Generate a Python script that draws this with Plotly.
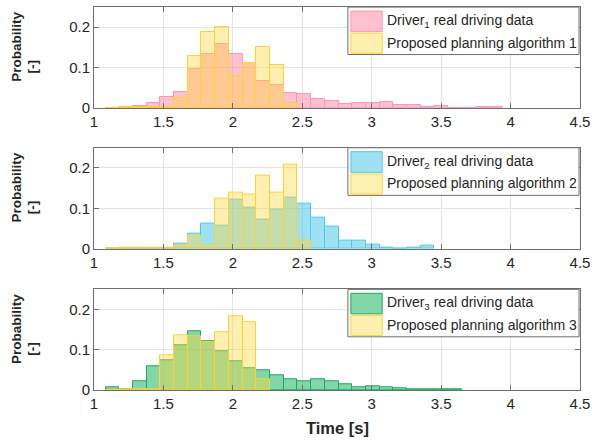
import plotly.graph_objects as go
from plotly.subplots import make_subplots

# ---- data (probability per time bin) ----
bin_start = 1.083
bin_width = 0.0987

driver1 = [0, 0.001, 0.005, 0.013, 0.026, 0.038, 0.096, 0.133, 0.157, 0.133, 0.110,
           0.067, 0.057, 0.037, 0.034, 0.022, 0.016, 0.010, 0.012, 0.012, 0.015,
           0.007, 0.007, 0.003, 0.004, 0, 0, 0.002, 0.001]
algo1 = [0, 0.002, 0.003, 0.001, 0.001, 0.023, 0.128, 0.187, 0.200, 0.078, 0.112,
         0.150, 0.106, 0.013]

driver2 = [0, 0, 0, 0, 0, 0.012, 0.037, 0.063, 0.058, 0.122, 0.102, 0.073, 0.097,
           0.127, 0.112, 0.078, 0.055, 0.021, 0.019, 0.011, 0.002, 0, 0.002, 0.007]
algo2 = [0, 0.002, 0.002, 0.002, 0.002, 0.007, 0.032, 0.008, 0.124, 0.139, 0.134,
         0.181, 0.139, 0.208, 0.021]

driver3 = [0.008, 0.003, 0.022, 0.058, 0.074, 0.110, 0.145, 0.121, 0.095, 0.071,
           0.055, 0.050, 0.036, 0.026, 0.021, 0.026, 0.022, 0.014, 0.007, 0.010,
           0.0075, 0.004, 0.003, 0.002, 0.001, 0.0025]
algo3 = [0, 0.002, 0.002, 0.002, 0.087, 0.136, 0.133, 0.119, 0.143, 0.183, 0.168,
         0.027]

driver_names = ["Driver<sub>1</sub> real driving data",
                "Driver<sub>2</sub> real driving data",
                "Driver<sub>3</sub> real driving data"]
algo_names = ["Proposed planning algorithm 1",
              "Proposed planning algorithm 2",
              "Proposed planning algorithm 3"]

x_ticks = [1, 1.5, 2, 2.5, 3, 3.5, 4, 4.5]
y_ticks = [0, 0.1, 0.2]

driver_fill = ["rgba(255,130,160,0.5)", "rgba(60,195,232,0.5)", "rgba(25,180,100,0.55)"]
driver_line = ["rgb(255,150,180)", "rgb(80,200,235)", "rgb(30,170,90)"]
algo_fill = "rgba(255,215,60,0.4)"
algo_line = "rgb(255,210,50)"

FONT = "Liberation Sans, Arial, sans-serif"
TXT = "#262626"


def centers(n):
    return [bin_start + bin_width * (k + 0.5) for k in range(n)]


fig = make_subplots(rows=3, cols=1, shared_xaxes=False, vertical_spacing=0.0)

drivers = [driver1, driver2, driver3]
algos = [algo1, algo2, algo3]
for i in range(3):
    d = drivers[i]
    a = algos[i]
    fig.add_trace(go.Bar(x=centers(len(d)), y=d, width=bin_width,
                         marker=dict(color=driver_fill[i],
                                     line=dict(color=driver_line[i], width=1)),
                         name=driver_names[i], showlegend=False),
                  row=i + 1, col=1)
    fig.add_trace(go.Bar(x=centers(len(a)), y=a, width=bin_width,
                         marker=dict(color=algo_fill,
                                     line=dict(color=algo_line, width=1)),
                         name=algo_names[i], showlegend=False),
                  row=i + 1, col=1)

H_total = 443 - 6 - 53
domains = [
    [(390.3 - 107.3) / H_total, 1.0],
    [(390.3 - 248.7) / H_total, (390.3 - 147.3) / H_total],
    [0.0, (390.3 - 289.3) / H_total],
]

axis_common = dict(showline=True, linecolor="#6e6e6e", linewidth=1, mirror="ticks",
                   ticks="inside", ticklen=5, tickcolor="#6e6e6e",
                   showgrid=True, gridcolor="#e4e4e4", gridwidth=1, zeroline=False,
                   ticklabeloverflow="allow",
                   tickfont=dict(family=FONT, size=15, color=TXT))

shapes = []
annotations = []
for i in range(3):
    xa = "xaxis" if i == 0 else f"xaxis{i + 1}"
    ya = "yaxis" if i == 0 else f"yaxis{i + 1}"
    fig.update_layout({
        xa: dict(range=[1, 4.5], tickvals=x_ticks, **axis_common),
        ya: dict(range=[0, 0.25], tickvals=y_ticks, domain=domains[i], **axis_common),
    })
    xr = "x domain" if i == 0 else f"x{i + 1} domain"
    yr = "y domain" if i == 0 else f"y{i + 1} domain"
    # legend box
    shapes.append(dict(type="rect", xref=xr, yref=yr, x0=0.5224, x1=0.998,
                       y0=0.528, y1=0.999, fillcolor="white",
                       line=dict(color="#6e6e6e", width=1), layer="above"))
    # swatches
    shapes.append(dict(type="rect", xref=xr, yref=yr, x0=0.5285, x1=0.593,
                       y0=0.756, y1=0.960, fillcolor=driver_fill[i],
                       line=dict(color=driver_line[i], width=1), layer="above"))
    shapes.append(dict(type="rect", xref=xr, yref=yr, x0=0.5285, x1=0.593,
                       y0=0.540, y1=0.740, fillcolor=algo_fill,
                       line=dict(color=algo_line, width=1), layer="above"))
    annotations.append(dict(xref=xr, yref=yr, x=0.598, y=0.862, text=driver_names[i],
                            showarrow=False, xanchor="left", yanchor="middle",
                            font=dict(family=FONT, size=14, color=TXT)))
    annotations.append(dict(xref=xr, yref=yr, x=0.598, y=0.647, text=algo_names[i],
                            showarrow=False, xanchor="left", yanchor="middle",
                            font=dict(family=FONT, size=14, color=TXT)))
    # y labels
    annotations.append(dict(xref=xr, yref=yr, x=(15.5 - 94) / 492, y=0.61,
                            text="<b>Probability</b>", textangle=-90, showarrow=False,
                            xanchor="center", yanchor="middle",
                            font=dict(family=FONT, size=13.5, color=TXT)))
    annotations.append(dict(xref=xr, yref=yr, x=(31.5 - 94) / 492, y=0.412,
                            text="<b>[-]</b>", textangle=-90, showarrow=False,
                            xanchor="center", yanchor="middle",
                            font=dict(family=FONT, size=13.5, color=TXT)))

annotations.append(dict(xref="paper", yref="paper", x=0.5, y=-(428 - 390.3) / H_total,
                        text="<b>Time [s]</b>", showarrow=False, xanchor="center",
                        yanchor="middle", font=dict(family=FONT, size=16.5, color=TXT)))

fig.update_layout(
    width=596, height=443,
    margin=dict(l=94, r=10, t=6, b=53),
    barmode="overlay", bargap=0,
    paper_bgcolor="white", plot_bgcolor="white",
    showlegend=False,
    shapes=shapes, annotations=annotations,
    font=dict(family=FONT, color=TXT),
)

fig.write_html("out.html", config={"displayModeBar": False},
               post_script="document.body.style.margin='0px';document.body.style.padding='0px';")
